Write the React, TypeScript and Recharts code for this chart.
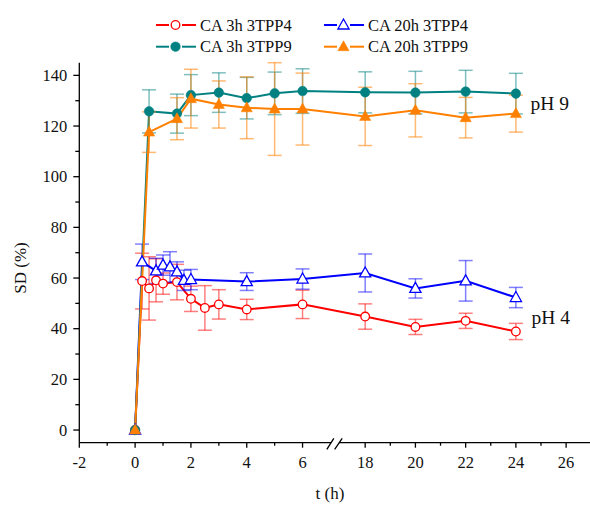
import React from 'react';
import { LineChart, Line, XAxis, YAxis, ErrorBar, ReferenceLine, Customized } from 'recharts';

const FONT = "'Liberation Serif', 'Times New Roman', serif";
const serif = { fontFamily: FONT };

// CA 3h 3TPP4 (pH 4)
const tCA3h4 = [0, 0.25, 0.5, 0.75, 1, 1.5, 2, 2.5, 3, 4, 6, 18, 20, 22, 24];
const sdCA3h4 = [0, 58.8, 55.9, 59.1, 57.8, 58.4, 51.8, 48.2, 49.6, 47.6, 49.6, 44.8, 40.7, 43.1, 38.9];
const errCA3h4 = [0, 11, 12.5, 8.5, 4.2, 7, 5, 8.8, 5.8, 4, 5.6, 5, 3, 3, 3.2];

// CA 20h 3TPP4 (pH 4)
const tCA20h4 = [0, 0.25, 0.75, 1, 1.25, 1.5, 1.75, 2, 4, 6, 18, 20, 22, 24];
const sdCA20h4 = [0, 66.4, 62.8, 65.1, 64.4, 62.4, 59.1, 59.4, 58.6, 59.6, 62, 55.9, 58.9, 52.3];
const errCA20h4 = [0, 7, 5, 4, 6, 4, 4, 4, 3.5, 4, 7.5, 3.8, 8, 4];

// CA 3h 3TPP9 (pH 9)
const tCA3h9 = [0, 0.5, 1.5, 2, 3, 4, 5, 6, 18, 20, 22, 24];
const sdCA3h9 = [0, 125.8, 124.9, 132.2, 133.2, 131.0, 132.9, 133.8, 133.3, 133.2, 133.6, 132.8];
const errCA3h9 = [0, 8.5, 7.7, 8.1, 7.8, 8.2, 8.4, 8.8, 8.1, 8.4, 8.4, 8];

// CA 20h 3TPP9 (pH 9)
const tCA20h9 = [0, 0.5, 1.5, 2, 3, 4, 5, 6, 18, 20, 22, 24];
const sdCA20h9 = [0, 117.6, 122.9, 130.8, 128.5, 127.2, 126.7, 126.7, 123.8, 126.2, 123.3, 124.9];
const errCA20h9 = [0, 8, 8.3, 11.6, 9.3, 12.2, 18.3, 14.2, 11.5, 10.5, 8, 7.3];

const xMajor = [-2, 0, 2, 4, 6, 18, 20, 22, 24, 26];
const xMinor = [-1, 1, 3, 5, 19, 21, 23, 25];
const yMajor = [0, 20, 40, 60, 80, 100, 120, 140];
const yMinor = [10, 30, 50, 70, 90, 110, 130];

// broken time axis: 0-7 h as is, 18 h onward squeezed in after the gap
const AFTER_BREAK = 8.244;
const RIGHT_SCALE = 0.9;
const toAxis = (t: number) => (t <= 7 ? t : AFTER_BREAK + (t - 18) * RIGHT_SCALE);
const fromAxis = (v: number) => (v <= 7.5 ? v : 18 + (v - AFTER_BREAK) / RIGHT_SCALE);

const build = (t: number[], v: number[], e: number[]) =>
    t.map((x, i) => ({ x: toAxis(x), v: v[i], err: e[i] }));

const series = [
    { name: 'CA 3h 3TPP4', data: build(tCA3h4, sdCA3h4, errCA3h4), color: '#ff0000', bar: 'rgba(255,0,0,0.5)', shape: 'circle', filled: false },
    { name: 'CA 20h 3TPP4', data: build(tCA20h4, sdCA20h4, errCA20h4), color: '#0000ff', bar: 'rgba(0,0,255,0.5)', shape: 'triangle', filled: false },
    { name: 'CA 3h 3TPP9', data: build(tCA3h9, sdCA3h9, errCA3h9), color: '#008080', bar: 'rgba(0,128,128,0.5)', shape: 'circle', filled: true },
    { name: 'CA 20h 3TPP9', data: build(tCA20h9, sdCA20h9, errCA20h9), color: '#ff8000', bar: 'rgba(255,128,0,0.55)', shape: 'triangle', filled: true },
];

const Marker = ({ cx, cy, shape, color, filled }: any) => {
    if (cx == null || cy == null) return null;
    if (shape === 'circle') {
        return filled
            ? <circle cx={cx} cy={cy} r={4.8} fill={color} stroke={color} strokeWidth={0.5} />
            : <circle cx={cx} cy={cy} r={4.3} fill="#fff" stroke={color} strokeWidth={1.3} />;
    }
    const pts = `${cx},${cy - 6} ${cx - 5.6},${cy + 4} ${cx + 5.6},${cy + 4}`;
    return filled
        ? <polygon points={pts} fill={color} stroke={color} strokeWidth={0.5} />
        : <polygon points={pts} fill="#fff" stroke={color} strokeWidth={1.3} />;
};

const XTick = ({ x, y, payload }: any) => {
    const t = Math.round(fromAxis(payload.value));
    const major = t % 2 === 0;
    return (
        <g>
            <line x1={x} x2={x} y1={y} y2={y + (major ? 5 : 3)} stroke="#000" strokeWidth={1.3} />
            {major && (
                <text x={x} y={y + 20} dy="0.35em" textAnchor="middle" fontSize={16.5} style={serif} fill="#111">
                    {t}
                </text>
            )}
        </g>
    );
};

const YTick = ({ x, y, payload }: any) => {
    const major = payload.value % 20 === 0;
    return (
        <g>
            <line x1={x} x2={x - (major ? 6 : 4)} y1={y} y2={y} stroke="#000" strokeWidth={1.3} />
            {major && (
                <text x={x - 12} y={y} dy="0.35em" textAnchor="end" fontSize={16.5} style={serif} fill="#111">
                    {payload.value}
                </text>
            )}
        </g>
    );
};

const Titles = () => (
    <g style={serif} fill="#111">
        <text x={20} y={268} transform="rotate(-90 20 268)" textAnchor="middle" dy="0.35em" fontSize={17}>SD (%)</text>
        <text x={330} y={493} textAnchor="middle" dy="0.35em" fontSize={17}>t (h)</text>
        <text x={530.5} y={103.5} dy="0.35em" fontSize={19.5}>pH 9</text>
        <text x={531.5} y={317.5} dy="0.35em" fontSize={19.5}>pH 4</text>
    </g>
);

const legendPos = [
    { x: 156, y: 25 },
    { x: 324, y: 25 },
    { x: 156, y: 46.7 },
    { x: 324, y: 46.7 },
];

const Legend = () => (
    <svg width={590} height={60} style={{ position: 'absolute', left: 0, top: 0 }}>
        {series.map((s, i) => {
            const { x, y } = legendPos[i];
            const mx = x + 19.5;
            return (
                <g key={s.name}>
                    <line x1={x} x2={mx - 6.5} y1={y} y2={y} stroke={s.color} strokeWidth={2} />
                    <line x1={mx + 6.5} x2={x + 40} y1={y} y2={y} stroke={s.color} strokeWidth={2} />
                    <Marker cx={mx} cy={y} shape={s.shape} color={s.color} filled={s.filled} />
                    <text x={x + 44} y={y} dy="0.35em" fontSize={16.5} style={serif} fill="#111">{s.name}</text>
                </g>
            );
        })}
    </svg>
);

export default function App() {
    const xTicks = [...xMajor, ...xMinor].map(toAxis);
    return (
        <div style={{ position: 'absolute', left: 0, top: 0, width: 590, height: 505, background: '#fff', fontFamily: FONT }}>
            <LineChart width={590} height={505} margin={{ top: 62.7, right: 0, bottom: 0, left: 0 }} style={serif}>
                <XAxis
                    type="number"
                    dataKey="x"
                    domain={[-2, 16.3]}
                    ticks={xTicks}
                    interval={0}
                    tick={<XTick />}
                    tickSize={0}
                    tickMargin={0}
                    tickLine={false}
                    axisLine={false}
                    height={62.3}
                    allowDataOverflow
                />
                <YAxis
                    type="number"
                    domain={[-5, 145]}
                    ticks={[...yMajor, ...yMinor]}
                    interval={0}
                    tick={<YTick />}
                    tickSize={0}
                    tickMargin={0}
                    tickLine={false}
                    axisLine={{ stroke: '#000', strokeWidth: 1.3 }}
                    width={79.3}
                    allowDataOverflow
                />
                {/* x axis line with the // break */}
                <ReferenceLine segment={[{ x: -2, y: -5 }, { x: 7.02, y: -5 }]} stroke="#000" strokeWidth={1.3} ifOverflow="visible" />
                <ReferenceLine segment={[{ x: 7.31, y: -5 }, { x: 16.3, y: -5 }]} stroke="#000" strokeWidth={1.3} ifOverflow="visible" />
                <ReferenceLine segment={[{ x: 6.87, y: -7.6 }, { x: 7.12, y: -3.3 }]} stroke="#000" strokeWidth={1.3} ifOverflow="visible" />
                <ReferenceLine segment={[{ x: 7.15, y: -7.6 }, { x: 7.42, y: -3.3 }]} stroke="#000" strokeWidth={1.3} ifOverflow="visible" />
                {series.map((s) => (
                    <Line
                        key={s.name}
                        data={s.data}
                        dataKey="v"
                        name={s.name}
                        stroke={s.color}
                        strokeWidth={2}
                        isAnimationActive={false}
                        dot={(p: any) => (
                            <Marker key={p.index} cx={p.cx} cy={p.cy} shape={s.shape} color={s.color} filled={s.filled} />
                        )}
                        activeDot={false}
                    >
                        <ErrorBar dataKey="err" direction="y" width={7} stroke={s.bar} strokeWidth={1.5} isAnimationActive={false} />
                    </Line>
                ))}
                <Customized component={<Titles />} />
            </LineChart>
            <Legend />
        </div>
    );
}
